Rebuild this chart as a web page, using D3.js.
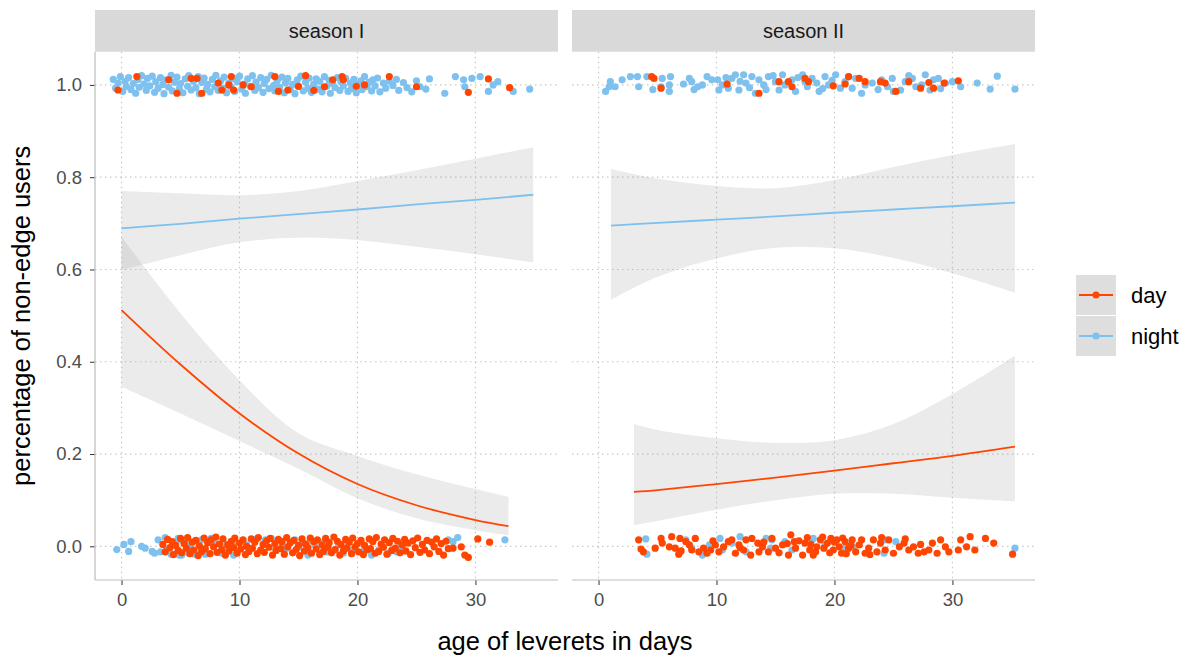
<!DOCTYPE html>
<html>
<head>
<meta charset="utf-8">
<script src="https://cdn.jsdelivr.net/npm/d3@7"></script>
<style>
  body { margin: 0; background: #fff; }
  svg text { font-family: "Liberation Sans", Arial, sans-serif; }
</style>
</head>
<body>
<div id="chart"></div>
<script>
// categories
var seasons = ["season I", "season II"];
var periods = ["day", "night"];
var xTicks = [0, 10, 20, 30];
var yTicks = [0, 0.2, 0.4, 0.6, 0.8, 1.0];

// fitted curves (logistic smooth)
var s1DayAge = [0, 5, 10, 15, 20, 25, 30, 32.8];
var s1DayFit = [0.512, 0.394, 0.288, 0.201, 0.135, 0.089, 0.057, 0.044];
var s1DayLo  = [0.346, 0.288, 0.228, 0.168, 0.104, 0.061, 0.035, 0.024];
var s1DayHi  = [0.671, 0.505, 0.360, 0.245, 0.196, 0.156, 0.124, 0.107];

var s1NightAge = [0, 5, 10, 15, 20, 25, 30, 34.9];
var s1NightFit = [0.689, 0.699, 0.710, 0.720, 0.730, 0.741, 0.751, 0.762];
var s1NightLo  = [0.599, 0.631, 0.659, 0.669, 0.664, 0.649, 0.633, 0.615];
var s1NightHi  = [0.770, 0.765, 0.761, 0.770, 0.792, 0.815, 0.840, 0.865];

var s2DayAge = [3.0, 5, 10, 15, 20, 25, 30, 35.3];
var s2DayFit = [0.118, 0.122, 0.135, 0.149, 0.164, 0.180, 0.196, 0.216];
var s2DayLo  = [0.046, 0.055, 0.079, 0.100, 0.114, 0.114, 0.105, 0.097];
var s2DayHi  = [0.265, 0.252, 0.234, 0.224, 0.230, 0.265, 0.330, 0.413];

var s2NightAge = [1.05, 5, 10, 15, 20, 25, 30, 35.3];
var s2NightFit = [0.695, 0.701, 0.708, 0.715, 0.723, 0.730, 0.737, 0.745];
var s2NightLo  = [0.534, 0.584, 0.624, 0.647, 0.646, 0.625, 0.592, 0.550];
var s2NightHi  = [0.818, 0.797, 0.781, 0.776, 0.794, 0.822, 0.848, 0.872];

// jittered observations [age, value]
var s1NightTop = [[-0.7,1.012],[-0.5,0.993],[-0.3,1.004],[-0.1,1.018],[0.1,0.986],[0.3,1.008],[0.4,0.997],[0.6,1.016],[0.8,0.990],[1.0,1.003],[1.2,0.982],[1.4,1.012],[1.5,0.995],[1.7,1.020],[1.9,1.002],[2.1,0.988],[2.2,1.014],[2.4,0.998],[2.6,1.019],[2.8,0.984],[2.9,1.007],[3.1,0.993],[3.3,1.016],[3.5,1.001],[3.6,0.981],[3.8,1.011],[4.0,0.995],[4.2,1.021],[4.3,0.987],[4.5,1.006],[4.7,1.017],[4.9,0.992],[5.0,1.003],[5.2,0.983],[5.4,1.013],[5.6,0.997],[5.7,1.020],[5.9,0.989],[6.1,1.008],[6.3,0.994],[6.5,1.018],[6.6,0.981],[6.8,1.005],[7.0,1.015],[7.2,0.991],[7.3,1.001],[7.5,0.985],[7.7,1.012],[7.9,0.996],[8.0,1.021],[8.2,0.988],[8.4,1.009],[8.6,0.993],[8.7,1.017],[8.9,0.983],[9.1,1.004],[9.3,0.995],[9.5,1.014],[9.6,0.986],[9.8,1.007],[10.0,1.019],[10.2,0.991],[10.4,1.002],[10.5,0.982],[10.7,1.013],[10.9,0.997],[11.1,1.020],[11.3,0.988],[11.4,1.006],[11.6,0.994],[11.8,1.016],[12.0,0.984],[12.1,1.003],[12.3,1.012],[12.5,0.992],[12.7,1.021],[12.9,0.999],[13.0,0.987],[13.2,1.009],[13.4,0.995],[13.6,1.017],[13.8,0.983],[13.9,1.004],[14.1,1.014],[14.3,0.990],[14.5,1.001],[14.7,0.981],[14.9,1.011],[15.0,0.996],[15.2,1.019],[15.4,0.987],[15.6,1.006],[15.8,0.993],[15.9,1.015],[16.1,0.984],[16.3,1.002],[16.5,1.013],[16.7,0.991],[16.8,1.008],[17.0,0.985],[17.2,1.018],[17.4,0.997],[17.6,1.010],[17.7,0.982],[17.9,1.003],[18.1,0.994],[18.3,1.016],[18.5,0.988],[18.6,1.007],[18.8,0.998],[19.0,1.014],[19.2,0.986],[19.4,1.004],[19.5,0.992],[19.7,1.012],[19.9,0.983],[20.1,1.001],[20.3,1.009],[20.4,0.990],[20.6,1.018],[20.8,0.996],[21.0,1.006],[21.2,0.987],[21.3,1.011],[21.5,0.998],[21.7,1.015],[21.9,0.985],[22.2,1.004],[22.4,0.993],[22.7,1.008],[23.0,0.999],[23.3,1.012],[23.5,0.988],[23.9,1.005],[24.2,0.994],[24.6,0.985],[25.0,1.009],[25.3,0.996],[25.8,0.991],[26.1,1.013],[27.4,0.982],[28.3,1.018],[29.0,1.011],[29.1,0.996],[29.7,1.014],[30.4,1.018],[31.1,0.986],[31.5,1.000],[31.9,1.007],[33.2,0.986],[34.6,0.991]];
var s1DayTop = [[-0.3,0.989],[1.3,1.018],[4.0,1.011],[4.7,0.982],[5.9,1.014],[6.4,1.014],[6.8,0.982],[8.2,1.004],[8.5,0.989],[9.1,1.000],[9.3,1.018],[9.5,0.989],[10.3,1.000],[11.0,0.996],[13.0,1.018],[13.3,0.986],[14.1,0.989],[15.0,0.997],[15.6,1.020],[16.3,0.988],[17.2,0.996],[17.9,1.011],[18.7,1.018],[18.8,1.011],[19.9,0.997],[20.6,1.000],[22.7,1.018],[25.0,0.996],[29.4,0.984],[31.1,1.013],[32.9,0.994]];
var s1NightBottom = [[-0.4,-0.007],[0.2,0.004],[0.6,-0.011],[0.8,0.010],[1.7,0.000],[2.0,-0.004],[2.6,-0.011],[2.8,-0.015],[3.1,0.014],[3.3,-0.012],[3.7,0.019],[3.8,-0.008],[4.2,-0.017],[4.7,-0.015],[4.8,0.017],[4.9,-0.019],[5.0,0.014],[5.1,-0.019],[5.4,0.007],[5.5,0.014],[5.7,-0.015],[5.8,0.001],[6.2,-0.017],[6.5,-0.010],[6.8,0.014],[7.1,-0.017],[7.6,0.017],[7.9,0.007],[8.5,-0.015],[8.9,0.003],[9.5,-0.019],[9.6,0.010],[10.6,0.003],[11.5,0.017],[12.2,0.014],[12.7,0.017],[13.1,-0.006],[13.6,0.007],[14.0,-0.004],[14.7,0.014],[15.0,-0.002],[15.4,0.007],[15.8,-0.019],[16.0,0.012],[16.4,0.003],[17.0,0.008],[17.4,-0.012],[17.5,0.010],[18.1,-0.008],[18.4,0.003],[18.8,-0.015],[19.2,0.007],[19.6,-0.009],[20.4,-0.012],[21.2,-0.019],[21.8,-0.008],[22.6,-0.016],[23.3,-0.012],[23.7,-0.001],[27.7,0.014],[28.1,0.010],[28.5,0.019],[32.5,0.014]];
var s1DayBottom = [[3.5,0.004],[3.7,-0.012],[3.9,0.015],[4.1,-0.003],[4.3,0.010],[4.4,-0.018],[4.6,0.002],[4.8,-0.009],[5.0,0.017],[5.1,-0.014],[5.3,0.006],[5.5,-0.004],[5.6,0.019],[5.8,-0.016],[6.0,0.009],[6.1,-0.008],[6.3,0.013],[6.5,-0.020],[6.6,0.001],[6.8,-0.011],[7.0,0.018],[7.1,-0.005],[7.3,0.008],[7.5,-0.016],[7.6,0.014],[7.8,-0.001],[8.0,0.020],[8.1,-0.013],[8.3,0.005],[8.5,-0.007],[8.6,0.016],[8.8,-0.019],[9.0,0.003],[9.1,-0.010],[9.3,0.011],[9.5,-0.003],[9.6,0.018],[9.8,-0.015],[10.0,0.007],[10.1,-0.006],[10.3,0.014],[10.5,-0.018],[10.6,0.000],[10.8,-0.011],[11.0,0.016],[11.1,-0.004],[11.3,0.009],[11.5,-0.016],[11.6,0.019],[11.8,-0.008],[12.0,0.004],[12.1,-0.013],[12.3,0.012],[12.5,-0.002],[12.6,0.017],[12.8,-0.019],[13.0,0.006],[13.1,-0.009],[13.3,0.015],[13.5,-0.005],[13.6,0.010],[13.8,-0.017],[14.0,0.019],[14.1,-0.001],[14.3,0.008],[14.5,-0.014],[14.6,0.013],[14.8,-0.007],[15.0,0.002],[15.1,-0.020],[15.3,0.016],[15.5,-0.010],[15.6,0.005],[15.8,-0.003],[16.0,0.018],[16.1,-0.015],[16.3,0.010],[16.5,-0.006],[16.6,0.014],[16.8,-0.018],[17.0,0.003],[17.1,-0.011],[17.3,0.017],[17.5,-0.002],[17.6,0.008],[17.8,-0.014],[18.0,0.020],[18.1,-0.007],[18.3,0.011],[18.5,-0.019],[18.6,0.004],[18.8,-0.010],[19.0,0.015],[19.1,-0.004],[19.3,0.009],[19.5,-0.016],[19.6,0.018],[19.8,-0.001],[20.0,0.006],[20.1,-0.012],[20.3,0.013],[20.5,-0.018],[20.6,0.002],[20.8,-0.008],[21.0,0.016],[21.1,-0.005],[21.3,0.010],[21.5,-0.015],[21.6,0.019],[21.8,-0.011],[22.0,0.005],[22.2,-0.002],[22.3,0.014],[22.5,-0.017],[22.7,0.008],[22.9,-0.009],[23.0,0.017],[23.2,-0.004],[23.4,0.011],[23.6,-0.014],[23.8,0.003],[24.0,0.015],[24.1,-0.010],[24.3,0.007],[24.5,-0.018],[24.7,0.012],[24.9,-0.003],[25.1,0.018],[25.3,-0.013],[25.5,0.004],[25.7,-0.008],[25.9,0.013],[26.1,-0.016],[26.3,0.009],[26.5,-0.001],[26.7,0.016],[26.9,-0.011],[27.1,0.006],[27.3,-0.019],[27.5,0.011],[27.7,-0.005],[28.1,-0.004],[28.8,-0.001],[29.1,-0.019],[29.4,-0.024],[30.2,0.016],[31.2,0.009]];

var s2NightTop = [[0.6,0.986],[0.9,0.996],[1.0,1.007],[1.4,0.996],[2.0,1.011],[2.7,1.018],[3.3,1.018],[3.4,0.996],[4.1,1.018],[4.6,0.990],[5.3,0.996],[5.4,1.014],[6.0,1.000],[6.1,1.018],[6.0,0.986],[7.2,1.002],[7.7,1.014],[7.9,1.007],[8.1,0.990],[8.4,0.996],[8.8,1.000],[9.2,1.018],[9.6,1.011],[10.1,1.011],[10.2,0.989],[10.5,1.000],[10.8,1.016],[11.0,0.993],[11.3,1.014],[11.6,1.022],[11.9,0.989],[12.0,1.008],[12.3,1.022],[12.5,1.004],[12.8,0.994],[13.0,1.018],[13.3,0.982],[13.6,1.011],[14.0,1.000],[14.2,0.990],[14.4,1.018],[14.8,1.020],[15.0,1.007],[15.3,0.989],[15.6,1.022],[15.8,1.000],[16.0,1.004],[16.4,1.011],[16.7,0.986],[16.9,1.016],[17.3,1.022],[17.5,1.008],[17.7,0.996],[18.1,1.014],[18.5,1.004],[18.7,0.986],[19.0,0.992],[19.2,1.018],[19.5,1.000],[19.8,1.010],[20.1,1.022],[20.5,0.993],[20.9,1.007],[21.2,1.018],[21.5,0.993],[21.8,1.014],[22.3,0.982],[22.6,1.000],[23.2,1.004],[23.7,0.990],[24.0,1.011],[24.5,0.996],[24.9,1.014],[25.0,0.986],[25.6,0.989],[26.0,1.007],[26.3,1.020],[26.6,1.014],[26.9,0.996],[27.4,1.000],[27.7,1.022],[28.1,0.989],[28.4,1.011],[28.8,1.014],[29.0,0.992],[29.4,1.004],[30.0,1.007],[30.7,0.996],[32.1,1.004],[33.2,0.991],[33.8,1.019],[35.3,0.991]];
var s2DayTop = [[4.5,1.018],[4.7,1.014],[5.3,0.993],[10.9,1.002],[13.6,0.982],[15.3,1.007],[16.1,1.007],[16.4,0.996],[17.5,1.014],[17.8,1.007],[19.9,0.998],[20.9,1.002],[21.2,1.018],[22.1,1.014],[22.6,1.007],[23.9,1.007],[24.3,1.004],[25.2,0.986],[26.3,1.007],[27.3,0.993],[28.0,1.005],[28.4,0.993],[29.3,1.004],[30.5,1.009]];
var s2NightBottom = [[4.0,0.016],[4.1,-0.017],[7.4,0.014],[7.9,-0.004],[8.8,-0.019],[9.4,0.003],[10.3,0.017],[10.5,-0.008],[11.3,0.007],[12.0,0.021],[12.5,-0.012],[14.2,0.017],[14.6,-0.004],[14.7,0.014],[15.8,0.010],[16.4,-0.008],[18.1,0.014],[18.2,0.017],[19.2,0.003],[20.9,-0.004],[21.4,0.003],[21.6,-0.001],[24.2,-0.015],[24.3,0.014],[25.2,0.010],[35.3,-0.004]];
var s2DayBottom = [[3.4,0.014],[3.6,-0.006],[3.8,-0.012],[4.8,-0.004],[5.3,0.017],[5.4,0.007],[6.0,-0.001],[6.2,0.021],[6.5,-0.004],[6.8,-0.017],[6.9,0.017],[7.0,-0.010],[7.4,0.010],[7.7,0.003],[7.9,-0.008],[8.2,0.017],[8.5,-0.012],[8.9,-0.004],[9.2,-0.015],[9.5,-0.008],[9.7,0.012],[9.9,0.003],[10.2,-0.012],[10.6,-0.001],[11.0,0.010],[11.3,0.014],[11.6,-0.015],[11.9,0.003],[12.0,-0.003],[12.3,-0.008],[12.5,0.014],[12.9,-0.019],[13.0,0.017],[13.5,0.007],[13.6,-0.012],[13.9,-0.001],[14.0,0.009],[14.4,-0.012],[14.7,0.017],[15.0,-0.004],[15.3,-0.014],[15.6,0.003],[16.0,0.006],[16.1,-0.019],[16.3,0.025],[16.6,0.010],[16.7,-0.004],[17.0,0.012],[17.3,-0.019],[17.5,0.007],[17.7,0.019],[17.9,-0.008],[18.0,0.004],[18.2,-0.019],[18.4,-0.012],[18.5,-0.001],[18.8,0.014],[19.0,0.020],[19.1,-0.004],[19.4,0.007],[19.6,-0.014],[19.7,0.017],[19.9,-0.008],[20.0,0.009],[20.2,0.014],[20.4,-0.001],[20.6,-0.015],[20.7,0.018],[20.9,0.010],[21.0,-0.016],[21.2,-0.004],[21.4,0.001],[21.5,0.014],[21.8,-0.012],[22.1,0.003],[22.3,0.014],[22.6,-0.015],[22.9,-0.004],[23.0,-0.018],[23.3,0.014],[23.6,-0.012],[23.9,0.007],[24.0,0.019],[24.3,-0.008],[24.6,0.014],[25.0,-0.015],[25.5,-0.001],[25.9,0.007],[26.0,0.016],[26.3,-0.008],[26.7,-0.001],[27.1,-0.015],[27.3,0.004],[27.6,-0.012],[28.0,-0.008],[28.3,0.007],[28.7,-0.015],[29.0,0.014],[29.4,-0.001],[29.7,-0.012],[30.5,-0.008],[30.7,0.014],[31.2,-0.001],[31.5,0.021],[31.9,-0.008],[32.8,0.017],[33.5,0.007],[35.1,-0.017]];

var colors = { day: "#FF4500", night: "#7EC0EE" };

function init() {
    var w = 1188, h = 659;
    var panelW = 463, panelTop = 51.7, panelBottom = 580;
    var panelLeft = [95, 572];
    var pointR = 3.6;
    var tickFont = "18.5px";

    // assemble per-panel series from the arrays above
    function fitRows(age, fit, lo, hi) {
        return age.map(function (a, i) { return { age: a, fit: fit[i], lo: lo[i], hi: hi[i] }; });
    }
    var panels = [
        {
            name: seasons[0],
            fits: { day: fitRows(s1DayAge, s1DayFit, s1DayLo, s1DayHi),
                    night: fitRows(s1NightAge, s1NightFit, s1NightLo, s1NightHi) },
            points: [ { key: "night", pts: s1NightTop.concat(s1NightBottom) },
                      { key: "day", pts: s1DayTop.concat(s1DayBottom) } ]
        },
        {
            name: seasons[1],
            fits: { day: fitRows(s2DayAge, s2DayFit, s2DayLo, s2DayHi),
                    night: fitRows(s2NightAge, s2NightFit, s2NightLo, s2NightHi) },
            points: [ { key: "night", pts: s2NightTop.concat(s2NightBottom) },
                      { key: "day", pts: s2DayTop.concat(s2DayBottom) } ]
        }
    ];

    var xScale = d3.scaleLinear().domain([-2.25, 37.0]).range([0, panelW]);
    var yScale = d3.scaleLinear().domain([-0.073, 1.072]).range([panelBottom - panelTop, 0]);

    var svg = d3.select("#chart").append("svg")
        .attr("width", w)
        .attr("height", h);

    var curve = d3.curveCatmullRom.alpha(0.5);

    var area = d3.area()
        .curve(curve)
        .x(function (d) { return xScale(d.age); })
        .y0(function (d) { return yScale(d.lo); })
        .y1(function (d) { return yScale(d.hi); });

    var line = d3.line()
        .curve(curve)
        .x(function (d) { return xScale(d.age); })
        .y(function (d) { return yScale(d.fit); });

    panels.forEach(function (p, i) {
        var g = svg.append("g").attr("transform", "translate(" + panelLeft[i] + "," + panelTop + ")");

        g.append("clipPath").attr("id", "clip" + i)
            .append("rect").attr("width", panelW).attr("height", panelBottom - panelTop);

        // strip
        svg.append("rect")
            .attr("x", panelLeft[i]).attr("y", 10)
            .attr("width", panelW).attr("height", panelTop - 10)
            .attr("fill", "#d9d9d9");
        svg.append("text")
            .attr("x", panelLeft[i] + panelW / 2).attr("y", 31)
            .attr("text-anchor", "middle").attr("dominant-baseline", "central")
            .attr("font-size", 20).attr("fill", "#1a1a1a")
            .text(p.name);

        // dotted grid
        g.selectAll(".gx").data(xTicks).enter().append("line")
            .attr("x1", function (d) { return xScale(d); })
            .attr("x2", function (d) { return xScale(d); })
            .attr("y1", 0).attr("y2", panelBottom - panelTop)
            .style("stroke", "#c8c8c8").style("stroke-width", 1.2)
            .style("stroke-dasharray", "1.5,3.5");
        g.selectAll(".gy").data(yTicks).enter().append("line")
            .attr("x1", 0).attr("x2", panelW)
            .attr("y1", function (d) { return yScale(d); })
            .attr("y2", function (d) { return yScale(d); })
            .style("stroke", "#c8c8c8").style("stroke-width", 1.2)
            .style("stroke-dasharray", "1.5,3.5");

        var body = g.append("g").attr("clip-path", "url(#clip" + i + ")");

        periods.forEach(function (k) {
            body.append("path").datum(p.fits[k])
                .attr("d", area)
                .style("fill", "#999").style("fill-opacity", 0.2);
        });
        periods.forEach(function (k) {
            body.append("path").datum(p.fits[k])
                .attr("d", line)
                .style("fill", "none").style("stroke", colors[k]).style("stroke-width", 1.8);
        });

        p.points.forEach(function (s) {
            body.selectAll(null).data(s.pts).enter().append("circle")
                .attr("cx", function (d) { return xScale(d[0]); })
                .attr("cy", function (d) { return yScale(d[1]); })
                .attr("r", pointR)
                .style("fill", colors[s.key]);
        });

        // x axis
        var xAxis = d3.axisBottom(xScale).tickValues(xTicks).tickSize(5).tickPadding(8);
        var gx = g.append("g").attr("transform", "translate(0," + (panelBottom - panelTop) + ")").call(xAxis);
        gx.select(".domain").remove();
        gx.selectAll("line").style("stroke", "#333");
        gx.selectAll("text").style("font-size", tickFont).style("fill", "#4d4d4d")
            .style("font-family", "Liberation Sans, Arial, sans-serif");
        g.append("line")
            .attr("x1", 0).attr("x2", panelW)
            .attr("y1", panelBottom - panelTop).attr("y2", panelBottom - panelTop)
            .style("stroke", "#bdbdbd").style("stroke-width", 1.2);

        if (i === 0) {
            var yAxis = d3.axisLeft(yScale).tickValues(yTicks)
                .tickFormat(d3.format(".1f")).tickSize(5).tickPadding(8);
            var gy = g.append("g").call(yAxis);
            gy.select(".domain").remove();
            gy.selectAll("line").style("stroke", "#333");
            gy.selectAll("text").style("font-size", tickFont).style("fill", "#4d4d4d")
                .style("font-family", "Liberation Sans, Arial, sans-serif");
            g.append("line")
                .attr("x1", 0).attr("x2", 0)
                .attr("y1", 0).attr("y2", panelBottom - panelTop)
                .style("stroke", "#bdbdbd").style("stroke-width", 1.2);
        }
    });

    // axis titles
    svg.append("text")
        .attr("x", (panelLeft[0] + panelLeft[1] + panelW) / 2).attr("y", 650)
        .attr("text-anchor", "middle").attr("font-size", 25.5).attr("fill", "#000")
        .text("age of leverets in days");
    svg.append("text")
        .attr("transform", "translate(30," + ((panelTop + panelBottom) / 2) + ") rotate(-90)")
        .attr("text-anchor", "middle").attr("font-size", 25.5).attr("fill", "#000")
        .text("percentage of non-edge users");

    // legend
    var legend = svg.append("g").attr("transform", "translate(1076,275)");
    var key = legend.selectAll("g").data(periods).enter().append("g")
        .attr("transform", function (d, i) { return "translate(0," + (i * 41) + ")"; });
    key.append("rect").attr("width", 40).attr("height", 40).attr("fill", "#dedede");
    key.append("line").attr("x1", 3).attr("x2", 37).attr("y1", 20).attr("y2", 20)
        .style("stroke", function (d) { return colors[d]; }).style("stroke-width", 1.8);
    key.append("circle").attr("cx", 20).attr("cy", 20).attr("r", pointR)
        .style("fill", function (d) { return colors[d]; });
    key.append("text").attr("x", 55).attr("y", 20)
        .attr("dominant-baseline", "central").attr("font-size", 22).attr("fill", "#000")
        .text(function (d) { return d; });
}

window.onload = init;
</script>
</body>
</html>
